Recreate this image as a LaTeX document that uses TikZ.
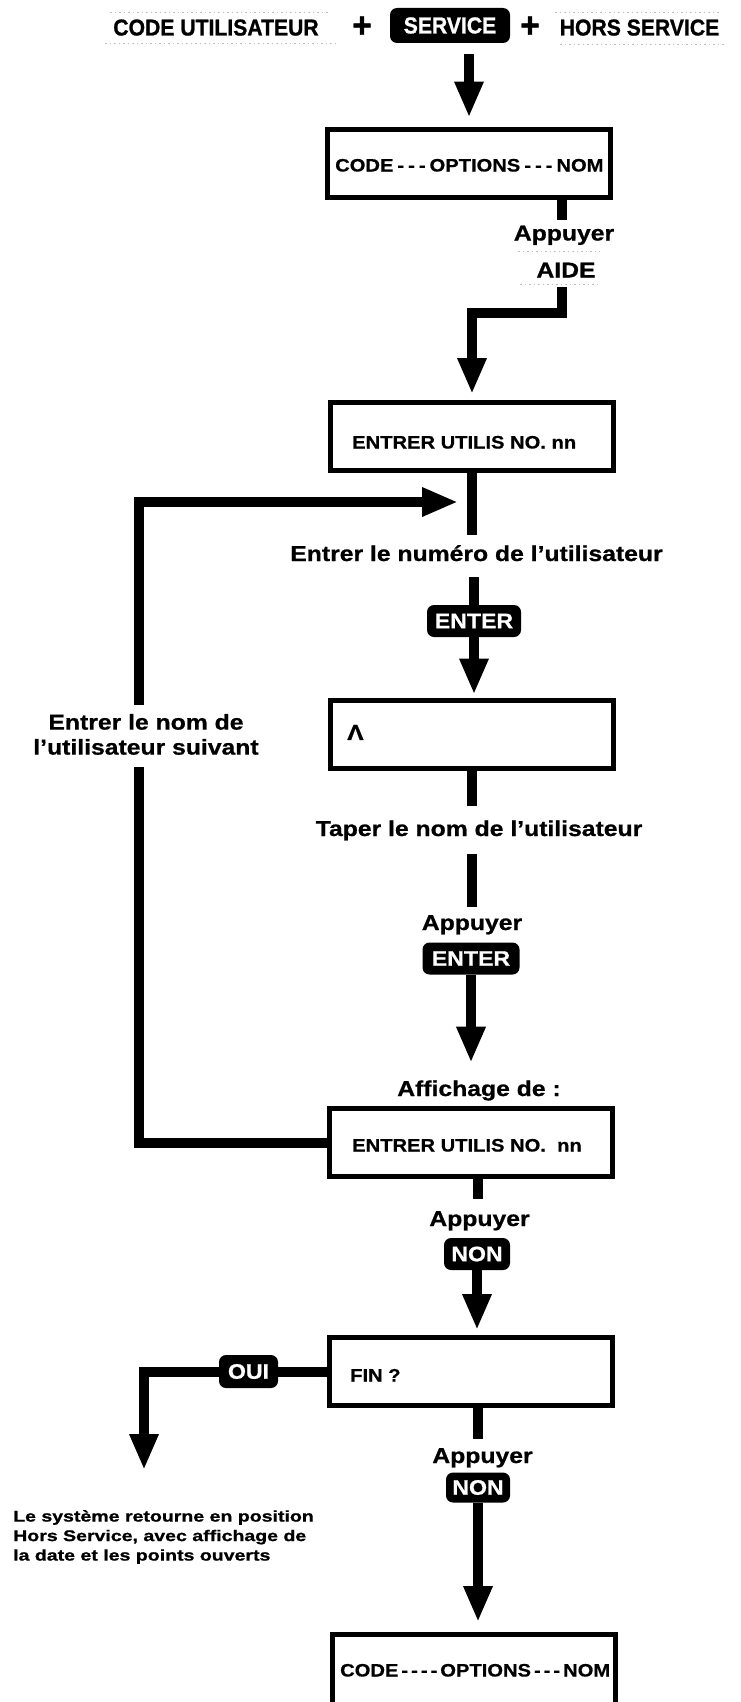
\documentclass[tikz,border=0pt]{standalone}
\usepackage{fontspec}
\usetikzlibrary{arrows.meta}
\newfontfamily\fTop{Liberation Sans}[FakeStretch=0.92, FakeBold=1]
\newfontfamily\fLab{Liberation Sans}[FakeStretch=1.15, FakeBold=0.8]
\newfontfamily\fBox{Liberation Sans}[FakeStretch=1.12, FakeBold=0.6]
\newfontfamily\fNote{Liberation Sans}[FakeStretch=1.26, FakeBold=1]
\newfontfamily\fKey{Liberation Sans}[FakeStretch=1.1, FakeBold=0.8]
\newcommand\dshA{\kern4pt-\kern4pt-\kern4pt-\kern4pt}
\newcommand\dshB{\kern3pt-\kern3pt-\kern3pt-\kern3pt-\kern3pt}
\newcommand\dshC{\kern3pt-\kern3pt-\kern3pt-\kern3pt}
\begin{document}
\begin{tikzpicture}[x=1pt,y=-1pt,
  conn/.style={line width=10pt},
  arr/.style={conn, -{Triangle[length=36pt,width=27pt]}},
  dbox/.style={draw, line width=5pt, minimum width=283pt, minimum height=68pt, inner sep=0pt},
  keycap/.style={fill=black, rounded corners=7pt, text=white, font=\fKey\bfseries\fontsize{21}{21}\selectfont, minimum height=32pt, inner sep=0pt},
  lbl/.style={font=\fLab\bfseries\fontsize{21.5}{25}\selectfont, inner sep=0pt, anchor=base},
  btxt/.style={font=\fBox\bfseries\fontsize{18}{20}\selectfont, inner sep=0pt, anchor=base west},
  toptxt/.style={font=\fTop\bfseries\fontsize{23}{23}\selectfont, inner sep=0pt, anchor=base},
  plusnode/.style={font=\fTop\bfseries\fontsize{36}{36}\selectfont, inner sep=0pt},
  notetxt/.style={font=\fNote\bfseries\fontsize{15.5}{19.5}\selectfont, inner sep=0pt, align=left, anchor=north west},
  faint/.style={gray!50, line width=0.8pt, dash pattern=on 1.5pt off 3pt}
]
\useasboundingbox (0,0) rectangle (740,1702);
\fill[white] (0,0) rectangle (740,1702);

% ---- top row
\node[toptxt] (cu) at (216,35.5) {CODE UTILISATEUR};
\node[plusnode] (p1) at (362,27) {+};
\node[keycap, font=\fTop\bfseries\fontsize{23}{23}\selectfont, minimum width=120pt, minimum height=35pt] (srv) at (450,25.5) {SERVICE};
\node[plusnode] (p2) at (530,27) {+};
\node[toptxt] (hs) at (639.5,35.5) {HORS SERVICE};
\draw[faint] (110,12) -- (330,12);
\draw[faint] (105,43) -- (335,43);
\draw[faint] (555,12) -- (720,12);
\draw[faint] (560,44) -- (725,44);

% ---- boxes
\node[dbox] (b1) at (469,163.5) {};
\node[dbox] (b2) at (472,436.5) {};
\node[dbox] (b3) at (471.5,734) {};
\node[dbox] (b4) at (470.5,1142.5) {};
\node[dbox] (b5) at (471,1371.5) {};
\node[dbox, minimum height=80pt] (b6) at (473.5,1674.5) {};

\node[btxt] (t1) at (335,171.5) {CODE\dshA OPTIONS\dshA NOM};
\node[btxt] (t2) at (352,448.5) {ENTRER UTILIS NO. nn};
\node[btxt, font=\fBox\bfseries\fontsize{22}{22}\selectfont] (t3) at (347,740) {Λ};
\node[btxt] (t4) at (352,1151.5) {ENTRER UTILIS NO.\ \ nn};
\node[btxt] (t5) at (350,1381.5) {FIN ?};
\node[btxt] (t6) at (340,1676.5) {CODE\dshB OPTIONS\dshC NOM};

% ---- labels
\node[lbl] (ap1) at (564,240.5) {Appuyer};
\node[lbl] (aide) at (566,277.5) {AIDE};
\draw[faint] (518,251) -- (600,251);
\draw[faint] (520,284) -- (600,284);
\node[lbl] (l1) at (476.5,561) {Entrer le numéro de l’utilisateur};
\node[lbl] (l2) at (479,836) {Taper le nom de l’utilisateur};
\node[lbl] (ap2) at (472,930) {Appuyer};
\node[lbl] (aff) at (479,1096) {Affichage de :};
\node[lbl] (ap3) at (479.5,1226) {Appuyer};
\node[lbl] (ap4) at (482.5,1463) {Appuyer};
\node[lbl, anchor=center, align=center] (l3) at (146,734.4) {Entrer le nom de\\l’utilisateur suivant};
\node[notetxt] (nt) at (13,1510) {Le système retourne en position\\Hors Service, avec affichage de\\la date et les points ouverts};

% ---- keys
\node[keycap, minimum width=94pt] (en1) at (474,621) {ENTER};
\node[keycap, minimum width=97pt] (en2) at (471,958.5) {ENTER};
\node[keycap, minimum width=66pt] (non1) at (477,1254) {NON};
\node[keycap, minimum width=64pt, minimum height=30pt] (non2) at (478,1487.5) {NON};
\node[keycap, minimum width=59pt, minimum height=33pt] (oui) at (248.5,1371.5) {OUI};

% ---- coordinates
\coordinate (top) at (469,54);
\coordinate (xa) at (562,0);
\coordinate (e1) at (562,287);
\coordinate (e2) at (562,313);
\coordinate (e3) at (472,313);
\coordinate (ax) at (478,0);
\coordinate (xm) at (472,0);
\coordinate (lp1) at (139,1142.5);
\coordinate (lp2) at (139,767);
\coordinate (lp3) at (139,705);
\coordinate (lp4) at (139,502);
\coordinate (lpEnd) at (458,502);
\coordinate (ouiC) at (144,1371.5);

% ---- connectors
\draw[arr, shorten >=9.5pt] (top) -- (b1.north);
\draw[conn] (b1.south -| xa) -- ++(0,19.5);
\draw[arr, shorten >=6pt] (e1) -- (e2) -- (e3) -- (e3 |- b2.north);
\draw[conn] (b2.south) -- ++(0,61.5);
\draw[conn] (en1.north) -- ++(0,-28);
\draw[arr, shorten >=3pt] (en1.south) -- (en1.south |- b3.north);
\draw[conn] (b3.south) -- ++(0,35);
\draw[conn] ([yshift=-13pt]l2.south -| xm) -- ([yshift=8pt]ap2.north -| xm);
\draw[arr] (en2.south) -- ++(0,88);
\draw[conn] (b4.south -| ax) -- ++(0,20);
\draw[arr, shorten >=5pt] (non1.south) -- (non1.south |- b5.north);
\draw[conn] (b5.west) -- (oui.east);
\draw[arr] (oui.west) -- (ouiC) -- ++(0,98.5);
\draw[conn] (b5.south -| ax) -- ++(0,31);
\draw[arr, shorten >=10pt] (non2.south) -- (non2.south |- b6.north);
\draw[conn] (b4.west) -- (lp1) -- (lp2);
\draw[arr] (lp3) -- (lp4) -- (lpEnd);
\end{tikzpicture}
\end{document}
